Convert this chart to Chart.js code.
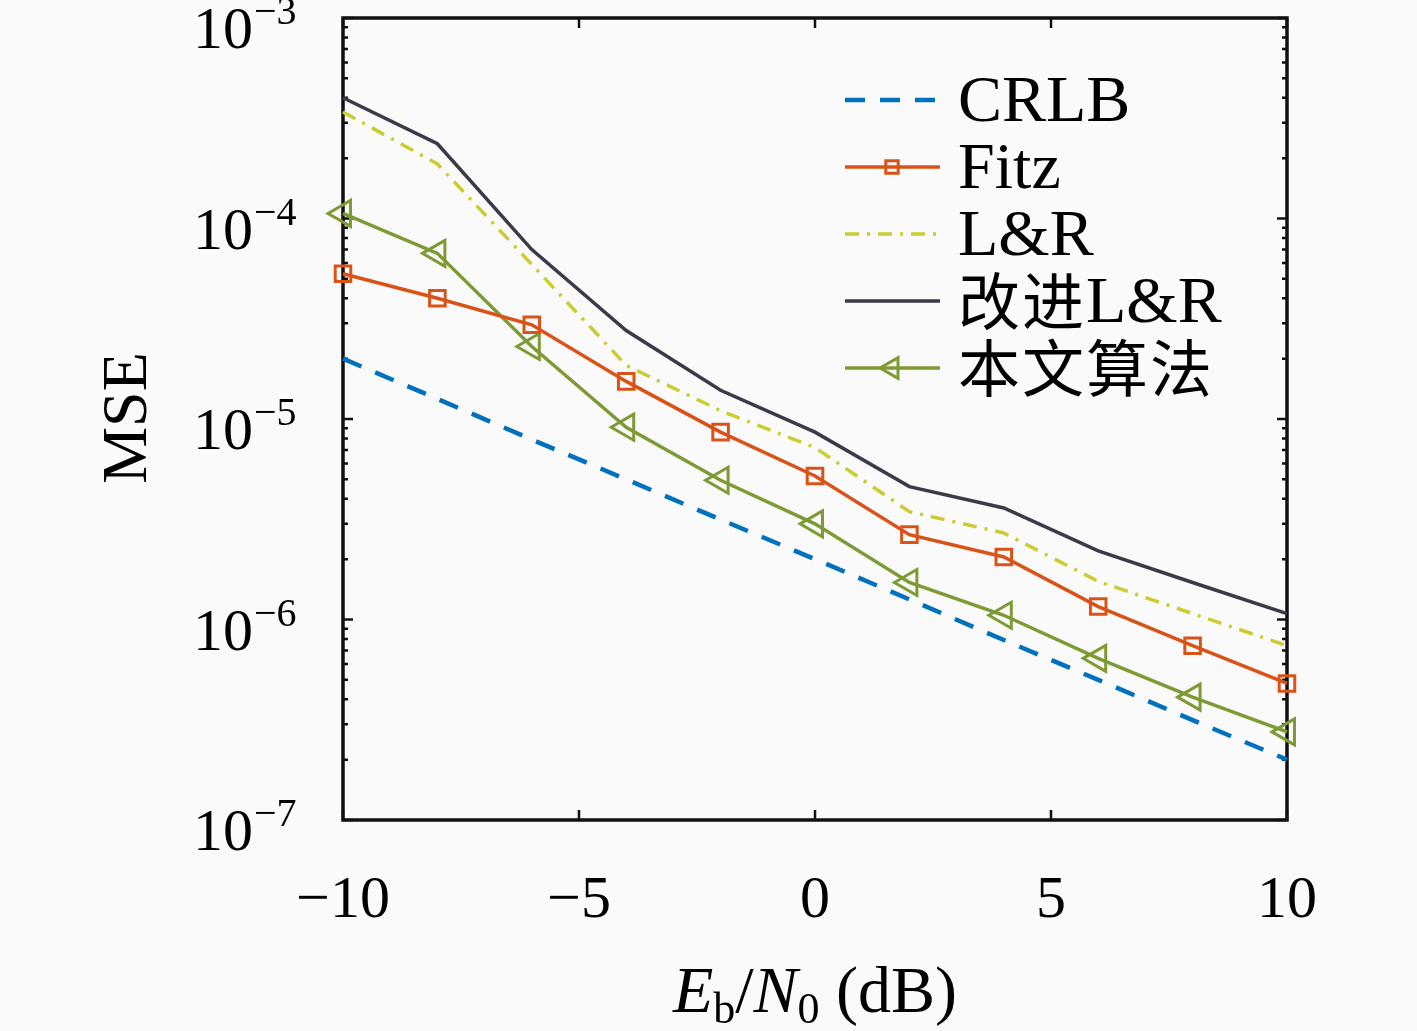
<!DOCTYPE html>
<html>
<head>
<meta charset="utf-8">
<script src="https://cdn.jsdelivr.net/npm/chart.js@4.4.0/dist/chart.umd.min.js"></script>
<style>
  html, body { margin: 0; padding: 0; background: #fafafa; }
  #wrap { width: 1417px; height: 1031px; }
</style>
</head>
<body>
<div id="wrap"><canvas id="mse" width="1417" height="1031"></canvas></div>
<script>
// Eb/N0 (dB)
const snr = [-10, -8, -6, -4, -2, 0, 2, 4, 6, 8, 10];

// MSE values
const crlb = [2.0e-5, 1.26e-5, 7.9e-6, 5.0e-6, 3.15e-6, 2.0e-6, 1.26e-6, 7.9e-7, 5.0e-7, 3.15e-7, 2.0e-7];
const fitz = [5.3e-5, 4.0e-5, 2.95e-5, 1.54e-5, 8.6e-6, 5.2e-6, 2.65e-6, 2.05e-6, 1.16e-6, 7.4e-7, 4.8e-7];
const lr = [3.4e-4, 1.87e-4, 5.9e-5, 1.85e-5, 1.1e-5, 7.2e-6, 3.45e-6, 2.7e-6, 1.55e-6, 1.07e-6, 7.4e-7];
const lrImproved = [4.0e-4, 2.36e-4, 7.0e-5, 2.76e-5, 1.39e-5, 8.6e-6, 4.6e-6, 3.6e-6, 2.2e-6, 1.53e-6, 1.07e-6];
const proposed = [1.06e-4, 6.7e-5, 2.3e-5, 9.1e-6, 4.95e-6, 3.0e-6, 1.53e-6, 1.05e-6, 6.4e-7, 4.1e-7, 2.75e-7];

const seriesNames = ["CRLB", "Fitz", "L&R", "改进L&R", "本文算法"];
const xTicks = [-10, -5, 0, 5, 10];
const yExponents = [-3, -4, -5, -6, -7];

const SERIF = '"Liberation Serif", "DejaVu Serif", serif';
const CJK = '"Noto Sans CJK SC", "Noto Sans", sans-serif';

const colors = {
   crlb: "#0072BD",
   fitz: "#D95319",
   lr: "#CACC30",
   lrImproved: "#3A3A48",
   proposed: "#7E9A35",
};

function pts(ys) {
   return snr.map((x, i) => ({ x: x, y: ys[i] }));
}

// box, inward ticks and tick labels
const axesPlugin = {
   id: "axesBox",
   beforeDatasetsDraw(chart) {
      const { ctx, chartArea: a, scales } = chart;
      const xs = scales.x, ys = scales.y;
      ctx.save();
      ctx.strokeStyle = "#111";
      ctx.lineWidth = 3.5;
      ctx.strokeRect(a.left, a.top, a.right - a.left, a.bottom - a.top);

      ctx.lineWidth = 2.5;
      ctx.beginPath();
      xTicks.forEach((t) => {
         const px = xs.getPixelForValue(t);
         ctx.moveTo(px, a.bottom); ctx.lineTo(px, a.bottom - 10);
         ctx.moveTo(px, a.top); ctx.lineTo(px, a.top + 10);
      });
      for (let e = -7; e <= -3; e++) {
         const py = ys.getPixelForValue(Math.pow(10, e));
         ctx.moveTo(a.left, py); ctx.lineTo(a.left + 10, py);
         ctx.moveTo(a.right, py); ctx.lineTo(a.right - 10, py);
         if (e < -3) {
            for (let m = 2; m <= 9; m++) {
               const pm = ys.getPixelForValue(m * Math.pow(10, e));
               ctx.moveTo(a.left, pm); ctx.lineTo(a.left + 5, pm);
               ctx.moveTo(a.right, pm); ctx.lineTo(a.right - 5, pm);
            }
         }
      }
      ctx.stroke();

      // x tick labels
      ctx.fillStyle = "#000";
      ctx.font = "60px " + SERIF;
      ctx.textAlign = "center";
      ctx.textBaseline = "alphabetic";
      xTicks.forEach((t) => {
         const px = xs.getPixelForValue(t);
         const s = t < 0 ? "\u2212" + Math.abs(t) : String(t);
         ctx.fillText(s, px, 917);
      });

      // y tick labels 10^n
      yExponents.forEach((e) => {
         const py = ys.getPixelForValue(Math.pow(10, e));
         ctx.font = "60px " + SERIF;
         ctx.textAlign = "right";
         ctx.fillText("10", 253, py + 30);
         ctx.font = "40px " + SERIF;
         ctx.textAlign = "left";
         ctx.fillText("\u2212" + Math.abs(e), 254, py + 6);
      });
      ctx.restore();
   },
   afterDraw(chart) {
      const { ctx } = chart;
      ctx.save();
      ctx.fillStyle = "#000";
      ctx.textBaseline = "alphabetic";

      // y title
      ctx.save();
      ctx.translate(146, 418);
      ctx.rotate(-Math.PI / 2);
      ctx.font = "64px " + SERIF;
      ctx.textAlign = "center";
      ctx.fillText("MSE", 0, 0);
      ctx.restore();

      // x title: E_b / N_0 (dB)
      const parts = [
         { t: "E", f: "italic 66px " + SERIF, dy: 0 },
         { t: "b", f: "44px " + SERIF, dy: 11 },
         { t: "/", f: "66px " + SERIF, dy: 0 },
         { t: "N", f: "italic 66px " + SERIF, dy: 0 },
         { t: "0", f: "44px " + SERIF, dy: 11 },
         { t: " (dB)", f: "66px " + SERIF, dy: 0 },
      ];
      let total = 0;
      parts.forEach((p) => { ctx.font = p.f; p.w = ctx.measureText(p.t).width; total += p.w; });
      let x = 815 - total / 2;
      ctx.textAlign = "left";
      parts.forEach((p) => { ctx.font = p.f; ctx.fillText(p.t, x, 1012 + p.dy); x += p.w; });

      // legend
      const rows = [100, 167, 234, 301, 368];
      chart.data.datasets.forEach((ds, i) => {
         const y = rows[i];
         ctx.save();
         ctx.strokeStyle = ds.borderColor;
         ctx.lineWidth = ds.borderWidth;
         ctx.setLineDash(ds.borderDash || []);
         ctx.beginPath();
         ctx.moveTo(845, y); ctx.lineTo(940, y);
         ctx.stroke();
         ctx.restore();
         if (ds.pointStyle && ds.pointRadius > 0) {
            ctx.save();
            ctx.strokeStyle = ds.pointBorderColor;
            ctx.fillStyle = "rgba(0,0,0,0)";
            ctx.lineWidth = ds.pointBorderWidth;
            Chart.helpers.drawPoint(ctx, {
               pointStyle: ds.pointStyle,
               rotation: ds.pointRotation || 0,
               radius: ds.pointRadius * 0.8,
               borderWidth: ds.pointBorderWidth,
            }, 892, y);
            ctx.restore();
         }
         ctx.fillStyle = "#000";
         const name = seriesNames[i];
         ctx.textAlign = "left";
         let tx = 958;
         for (const ch of name) {
            const cjk = /[\u4e00-\u9fff]/.test(ch);
            ctx.font = cjk ? "62px " + CJK : "66px " + SERIF;
            ctx.fillText(ch, tx, y + (cjk ? 24 : 21));
            tx += ctx.measureText(ch).width + (cjk ? 2 : 0);
         }
      });
      ctx.restore();
   },
};

new Chart(document.getElementById("mse"), {
   type: "line",
   data: {
      datasets: [
         {
            label: seriesNames[0], data: pts(crlb),
            borderColor: colors.crlb, borderWidth: 4.5, borderDash: [20, 15],
            pointRadius: 0, clip: false,
         },
         {
            label: seriesNames[1], data: pts(fitz),
            borderColor: colors.fitz, borderWidth: 3.5,
            pointStyle: "rect", pointRadius: 11, pointBorderWidth: 3,
            pointBorderColor: colors.fitz, pointBackgroundColor: "rgba(0,0,0,0)",
            clip: false,
         },
         {
            label: seriesNames[2], data: pts(lr),
            borderColor: colors.lr, borderWidth: 3.5, borderDash: [14, 8, 3, 8],
            pointRadius: 0, clip: false,
         },
         {
            label: seriesNames[3], data: pts(lrImproved),
            borderColor: colors.lrImproved, borderWidth: 3.5,
            pointRadius: 0, clip: false,
         },
         {
            label: seriesNames[4], data: pts(proposed),
            borderColor: colors.proposed, borderWidth: 3.5,
            pointStyle: "triangle", pointRotation: -90, pointRadius: 15, pointBorderWidth: 3,
            pointBorderColor: colors.proposed, pointBackgroundColor: "rgba(0,0,0,0)",
            clip: false,
         },
      ],
   },
   options: {
      responsive: false,
      animation: false,
      devicePixelRatio: 1,
      layout: { padding: { left: 343, right: 130, top: 17, bottom: 211 } },
      plugins: { legend: { display: false }, tooltip: { enabled: false } },
      elements: { line: { tension: 0 } },
      scales: {
         x: { type: "linear", min: -10, max: 10, display: false },
         y: { type: "logarithmic", min: 1e-7, max: 1e-3, display: false },
      },
   },
   plugins: [axesPlugin],
});
</script>
</body>
</html>
